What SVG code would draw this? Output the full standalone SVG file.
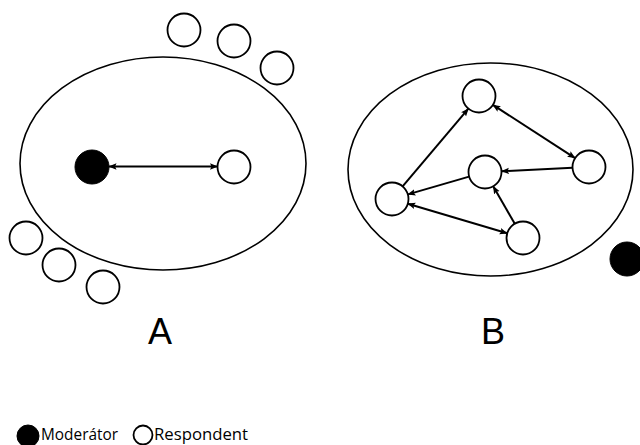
<svg xmlns="http://www.w3.org/2000/svg" width="640" height="445" viewBox="0 0 640 445">
<style>
.grp{fill:none;stroke:#000;stroke-width:1.6}
.resp{fill:#fff;stroke:#000;stroke-width:1.8}
.mod{fill:#000;stroke:#000;stroke-width:1}
.arr{fill:none;stroke:#000;stroke-width:2}
.lbl{font-family:"Liberation Sans",Arial,sans-serif;font-size:36px;fill:#000}
.leg{font-family:"Open Sans","Liberation Sans",sans-serif;font-size:16px;fill:#000}
</style>
<defs>
<marker id="ah" viewBox="0 0 8 8" refX="7.5" refY="4" markerWidth="8" markerHeight="8" markerUnits="userSpaceOnUse" orient="auto-start-reverse">
<path d="M0,0.8 L8,4 L0,7.2 L1.5,4 z" fill="#000"/>
</marker>
</defs>
<rect width="640" height="445" fill="#fff"/>
<g id="groupA">
<ellipse class="grp" cx="163" cy="163.5" rx="143" ry="106.5"/>
</g>
<g id="groupB">
<ellipse class="grp" cx="490.5" cy="169.5" rx="142.5" ry="106.5"/>
</g>
<g id="outsideA">
<circle id="oa1" class="resp" cx="184" cy="30" r="16.5"/>
<circle id="oa2" class="resp" cx="234" cy="41" r="16.5"/>
<circle id="oa3" class="resp" cx="277" cy="68" r="16.5"/>
<circle id="oa4" class="resp" cx="26" cy="238" r="16.5"/>
<circle id="oa5" class="resp" cx="59" cy="265" r="16.5"/>
<circle id="oa6" class="resp" cx="103" cy="287" r="16.5"/>
</g>
<g id="nodeA-mod"><circle class="mod" cx="92" cy="167" r="17"/></g>
<g id="nodeA-resp"><circle class="resp" cx="234" cy="167" r="16.5"/></g>
<g id="nodeB-top"><circle class="resp" cx="479" cy="96" r="16.5"/></g>
<g id="nodeB-center"><circle class="resp" cx="485" cy="172" r="16.5"/></g>
<g id="nodeB-right"><circle class="resp" cx="589" cy="167" r="16.5"/></g>
<g id="nodeB-left"><circle class="resp" cx="392" cy="199" r="16.5"/></g>
<g id="nodeB-bottom"><circle class="resp" cx="523" cy="238" r="16.5"/></g>
<g id="nodeB-mod"><circle class="mod" cx="627" cy="259" r="17"/></g>
<g id="connectors">
<line class="arr" x1="109" y1="166.5" x2="217.5" y2="166.5" marker-start="url(#ah)" marker-end="url(#ah)"/>
<line class="arr" x1="402.6" y1="186.4" x2="468.4" y2="108.6" marker-end="url(#ah)"/>
<line class="arr" x1="492.9" y1="104.9" x2="575.1" y2="158.1" marker-start="url(#ah)" marker-end="url(#ah)"/>
<line class="arr" x1="572.5" y1="167.8" x2="501.5" y2="171.2" marker-end="url(#ah)"/>
<line class="arr" x1="469.1" y1="176.6" x2="407.9" y2="194.4" marker-end="url(#ah)"/>
<line class="arr" x1="514.8" y1="223.7" x2="493.2" y2="186.3" marker-end="url(#ah)"/>
<line class="arr" x1="407.8" y1="203.7" x2="507.2" y2="233.3" marker-start="url(#ah)" marker-end="url(#ah)"/>
</g>
<g id="labels">
<text class="lbl" x="160" y="344" text-anchor="middle">A</text>
<text class="lbl" x="493" y="344" text-anchor="middle">B</text>
</g>
<g id="legend">
<circle class="mod" cx="28" cy="436" r="11"/>
<text class="leg" x="41" y="440" textLength="77" lengthAdjust="spacingAndGlyphs">Moderátor</text>
<circle class="resp" cx="143" cy="435" r="9.5"/>
<text class="leg" x="154" y="440" textLength="94" lengthAdjust="spacingAndGlyphs">Respondent</text>
</g>
</svg>
